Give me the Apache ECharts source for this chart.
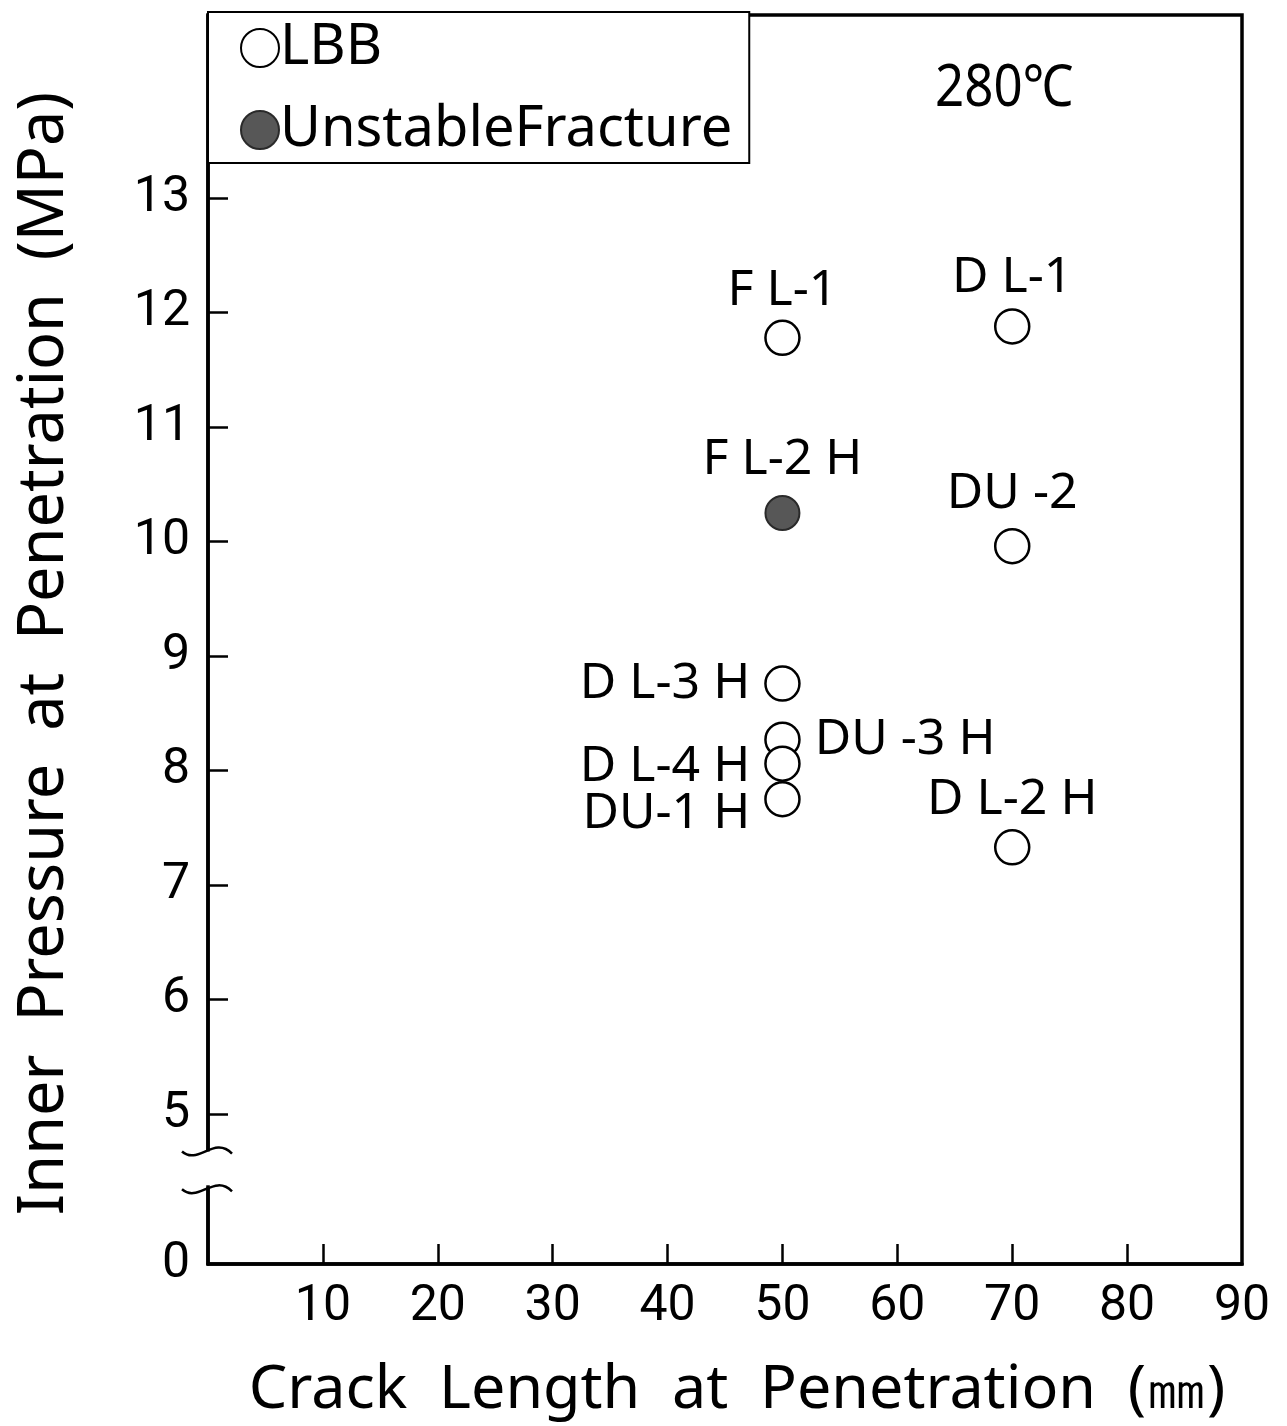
<!DOCTYPE html>
<html>
<head>
  <meta charset="utf-8">
  <script src="https://cdn.jsdelivr.net/npm/echarts@6.0.0/dist/echarts.min.js"></script>
  <style>
    body { margin: 0; padding: 0; background: #fff; }
    #chart { width: 1287px; height: 1426px; }
  </style>
</head>
<body>
  <div id="chart"></div>
  <script>
    // data
    const lbbNames = ['F L-1', 'D L-1', 'DU -2', 'D L-3 H', 'DU -3 H', 'D L-4 H', 'DU-1 H', 'D L-2 H'];
    const lbbCrack = [50, 70, 70, 50, 50, 50, 50, 70];
    const lbbPressure = [11.78, 11.88, 9.96, 8.76, 8.27, 8.06, 7.75, 7.33];
    const unstableNames = ['F L-2 H'];
    const unstableCrack = [50];
    const unstablePressure = [10.25];
    const xTickLabels = [10, 20, 30, 40, 50, 60, 70, 80, 90];
    const yTickLabels = [0, 5, 6, 7, 8, 9, 10, 11, 12, 13];

    const tickFont = 'Roboto, "Noto Sans", sans-serif';
    const textFont = '"Noto Sans", "DejaVu Sans", sans-serif';

    // where each point label sits
    const labelStyle = {
      'F L-1': { position: 'top', distance: 4 },
      'D L-1': { position: 'top', distance: 5 },
      'DU -2': { position: 'top', distance: 9 },
      'F L-2 H': { position: 'top', distance: 10 },
      'D L-3 H': { position: 'left', distance: 14 },
      'DU -3 H': { position: 'right', distance: 14 },
      'D L-4 H': { position: 'left', distance: 14, offset: [0, 3] },
      'DU-1 H': { position: 'left', distance: 14, offset: [0, 15] },
      'D L-2 H': { position: 'top', distance: 4 }
    };

    function points(names, xs, ys) {
      return names.map((n, i) => ({
        name: n,
        value: [xs[i], ys[i]],
        label: Object.assign({ show: true, formatter: '{b}' }, labelStyle[n])
      }));
    }

    const chart = echarts.init(document.getElementById('chart'));

    const option = {
      backgroundColor: '#fff',
      animation: false,
      grid: {
        left: 208, right: 45, top: 15, bottom: 161,
        show: true, borderColor: '#000', borderWidth: 3.5
      },
      legend: {
        orient: 'vertical',
        left: 208, top: 12,
        padding: [8, 17, 5, 32],
        itemGap: 26,
        itemWidth: 38, itemHeight: 38,
        borderColor: '#000', borderWidth: 2,
        backgroundColor: '#fff',
        icon: 'circle',
        textStyle: { fontFamily: textFont, fontSize: 56, color: '#000', lineHeight: 40, padding: [0, 0, 0, -4] },
        data: ['LBB', 'UnstableFracture']
      },
      xAxis: {
        type: 'value',
        min: 0, max: 90,
        name: 'Crack  Length  at  Penetration  (㎜)',
        nameLocation: 'middle',
        nameGap: 96,
        nameTextStyle: { fontFamily: textFont, fontSize: 61, color: '#000', padding: [0, 0, 0, 24] },
        axisLine: { lineStyle: { color: '#000', width: 3.5 } },
        axisTick: { inside: true, length: 20, lineStyle: { color: '#000', width: 2.5 }, customValues: xTickLabels.slice(0, -1) },
        axisLabel: { fontFamily: tickFont, fontSize: 50, color: '#000', margin: 18, customValues: xTickLabels },
        splitLine: { show: false }
      },
      yAxis: {
        type: 'value',
        min: 0, max: 14.6,
        // break gap is in data units: 0.33 MPa of axis space
        breaks: [{ start: 0.67, end: 4.69, gap: 0.33 }],
        breakArea: { show: false },
        name: 'Inner  Pressure  at  Penetration  (MPa)',
        nameLocation: 'middle',
        nameGap: 131,
        nameTextStyle: { fontFamily: textFont, fontSize: 63, color: '#000', padding: [0, 28, 0, 0] },
        axisLine: { lineStyle: { color: '#000', width: 3.5 } },
        axisTick: { inside: true, length: 20, lineStyle: { color: '#000', width: 2.5 }, customValues: yTickLabels.slice(1) },
        axisLabel: { fontFamily: tickFont, fontSize: 50, color: '#000', margin: 18, customValues: yTickLabels },
        splitLine: { show: false }
      },
      series: [
        {
          name: 'LBB',
          type: 'scatter',
          symbol: 'circle',
          symbolSize: 34,
          itemStyle: { color: '#fff', borderColor: '#000', borderWidth: 2.5, opacity: 1 },
          label: { fontFamily: textFont, fontSize: 50, color: '#000' },
          data: points(lbbNames, lbbCrack, lbbPressure)
        },
        {
          name: 'UnstableFracture',
          type: 'scatter',
          symbol: 'circle',
          symbolSize: 34,
          itemStyle: { color: '#575757', borderColor: '#2a2a2a', borderWidth: 2, opacity: 1 },
          label: { fontFamily: textFont, fontSize: 50, color: '#000' },
          data: points(unstableNames, unstableCrack, unstablePressure)
        }
      ]
    };

    chart.setOption(option);

    // axis break marks on the y axis
    const breakTop = chart.convertToPixel({ yAxisIndex: 0 }, 4.69);
    const breakBot = chart.convertToPixel({ yAxisIndex: 0 }, 0.67);
    const axisX = chart.convertToPixel({ xAxisIndex: 0 }, 0);
    const wave = y => ({
      type: 'bezierCurve', z: 101,
      shape: { x1: axisX - 26, y1: y + 2, cpx1: axisX - 10, cpy1: y + 16, cpx2: axisX + 6, cpy2: y - 14, x2: axisX + 24, y2: y + 4 },
      style: { stroke: '#000', lineWidth: 2.5, fill: null }
    });
    chart.setOption({
      graphic: [
        { type: 'text', x: 935, y: 60, scaleX: 0.88, z: 50, style: { text: '280℃', font: '58px ' + textFont, fill: '#000' } },
        { type: 'rect', z: 100, shape: { x: axisX - 6, y: breakTop + 2, width: 12, height: breakBot - breakTop - 4 }, style: { fill: '#fff' } },
        wave(breakTop),
        wave(breakBot)
      ]
    });
  </script>
</body>
</html>
